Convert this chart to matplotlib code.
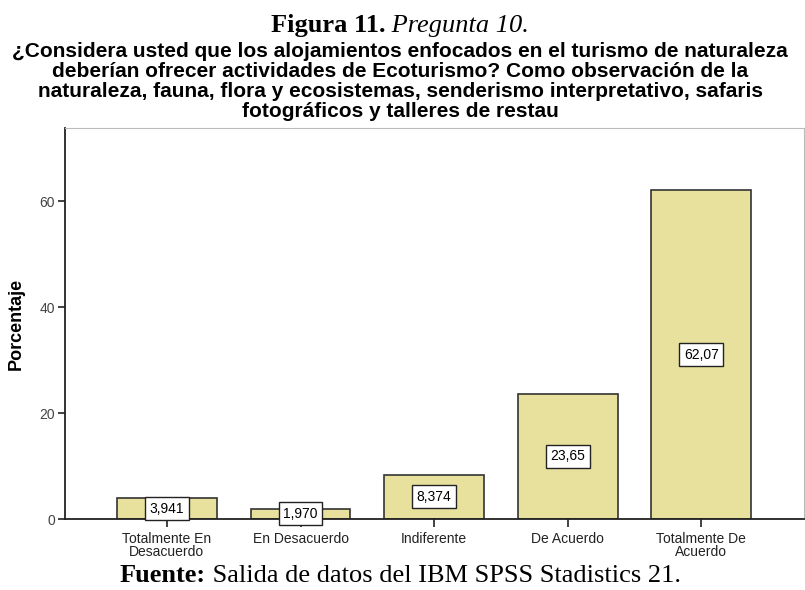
import matplotlib.pyplot as plt

categorias = ["Totalmente En\nDesacuerdo", "En Desacuerdo", "Indiferente",
              "De Acuerdo", "Totalmente De\nAcuerdo"]
porcentajes = [3.941, 1.970, 8.374, 23.65, 62.07]
etiquetas = ["3,941", "1,970", "8,374", "23,65", "62,07"]

titulo = ("¿Considera usted que los alojamientos enfocados en el turismo de naturaleza\n"
          "deberían ofrecer actividades de Ecoturismo? Como observación de la\n"
          "naturaleza, fauna, flora y ecosistemas, senderismo interpretativo, safaris\n"
          "fotográficos y talleres de restau")

plt.rcParams['font.family'] = ['Liberation Sans', 'DejaVu Sans']

fig = plt.figure(figsize=(8.05, 5.9), dpi=100)
ax = fig.add_axes([0.0807, 0.1203, 0.9183, 0.6627])

x = range(len(categorias))
ax.bar(x, porcentajes, width=0.748, color='#e8e19e', edgecolor='#333333', linewidth=1.2)

# etiquetas en cajas blancas a media altura
for i, v in enumerate(porcentajes):
    ax.text(i, v / 2, etiquetas[i], ha='center', va='center', fontsize=10,
            bbox=dict(boxstyle='square,pad=0.32', facecolor='white',
                      edgecolor='#222222', linewidth=1))

ax.set_xlim(-0.763, 4.77)
ax.set_ylim(0, 73.8)
ax.set_yticks([0, 20, 40, 60])
ax.set_xticks(list(x))
ax.set_xticklabels(categorias, fontsize=10, linespacing=0.95)
ax.tick_params(axis='y', labelsize=10, length=5, width=1.2, colors='#222222',
               labelcolor='#444444', pad=2)
ax.tick_params(axis='x', length=6, width=1.2, colors='#222222', labelcolor='#222222', pad=3)

for s in ['top', 'right']:
    ax.spines[s].set_color('#bbbbbb')
for s in ['left', 'bottom']:
    ax.spines[s].set_color('#222222')
    ax.spines[s].set_linewidth(1.3)

ax.set_ylabel('Porcentaje', fontsize=13, fontweight='bold')
ax.yaxis.set_label_coords(-0.054, 0.5)

fig.text(0.497, 0.862, titulo, ha='center', va='center', fontsize=15,
         fontweight='bold', linespacing=1.08)


def titulo_mixto(y, negrita, normal, estilo='normal'):
    # parte en negrita + parte normal, centradas juntas
    t1 = fig.text(0.5, y, negrita, ha='left', va='baseline', fontsize=19,
                  fontweight='bold', family='Liberation Serif')
    t2 = fig.text(0.5, y, normal, ha='left', va='baseline', fontsize=19,
                  style=estilo, family='Liberation Serif')
    r = fig.canvas.get_renderer()
    w1 = t1.get_window_extent(r).width
    w2 = t2.get_window_extent(r).width
    W = fig.bbox.width
    x0 = 0.497 - (w1 + w2) / 2 / W
    t1.set_x(x0)
    t2.set_x(x0 + w1 / W)


titulo_mixto(0.9458, "Figura 11.", " Pregunta 10.", estilo='italic')
titulo_mixto(0.014, "Fuente:", " Salida de datos del IBM SPSS Stadistics 21.")

plt.savefig('out.png', dpi=100)
